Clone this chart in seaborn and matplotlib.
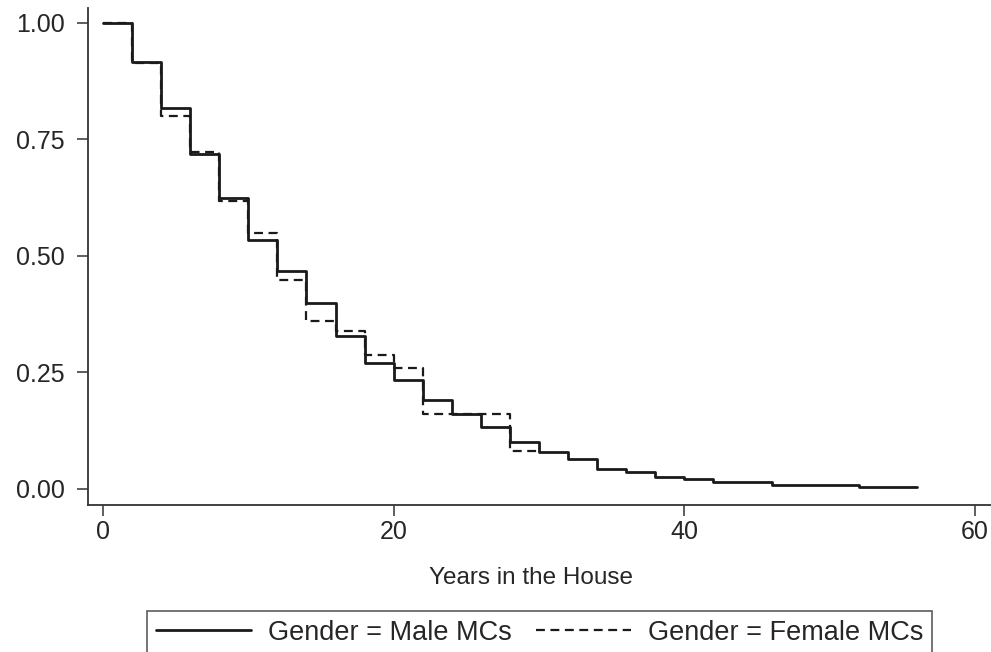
import pandas as pd
import matplotlib.pyplot as plt
import seaborn as sns

# Kaplan-Meier style survival estimates
years_male = [0, 2, 4, 6, 8, 10, 12, 14, 16, 18, 20, 22, 24, 26, 28, 30,
              32, 34, 36, 38, 40, 42, 46, 52, 56]
surv_male = [1.00, 0.916, 0.818, 0.719, 0.624, 0.534, 0.467, 0.398, 0.328,
             0.270, 0.234, 0.191, 0.160, 0.132, 0.100, 0.080, 0.064, 0.042,
             0.036, 0.026, 0.021, 0.014, 0.009, 0.004, 0.004]

years_female = [0, 2, 4, 6, 8, 10, 12, 14, 16, 18, 20, 22, 28, 30]
surv_female = [1.00, 0.913, 0.800, 0.722, 0.617, 0.549, 0.448, 0.360, 0.338,
               0.287, 0.259, 0.160, 0.081, 0.081]

label_male = "Gender = Male MCs"
label_female = "Gender = Female MCs"
x_ticks = [0, 20, 40, 60]
y_ticks = [0.00, 0.25, 0.50, 0.75, 1.00]

male = pd.DataFrame({"Years": years_male, "Survival": surv_male})
female = pd.DataFrame({"Years": years_female, "Survival": surv_female})

sns.set_style("white")
plt.rcParams['font.family'] = ['Liberation Sans', 'DejaVu Sans']

fig = plt.figure(figsize=(9.91, 6.52), dpi=100)
ax = fig.add_axes([88 / 991, 1 - 505 / 652, 1 - 88 / 991, (505 - 8) / 652])

sns.lineplot(data=male, x="Years", y="Survival", ax=ax, color="#1a1a1a",
             linewidth=2.0, drawstyle="steps-post", estimator=None,
             label=label_male)
sns.lineplot(data=female, x="Years", y="Survival", ax=ax, color="#1a1a1a",
             linewidth=1.6, linestyle=(0, (4, 2.5)), drawstyle="steps-post",
             estimator=None, label=label_female)

ax.set_xlim(-1.03, 61.1)
ax.set_ylim(-0.0345, 1.032)
ax.set_xticks(x_ticks)
ax.set_yticks(y_ticks)
ax.set_xticklabels([str(t) for t in x_ticks])
ax.set_yticklabels([f"{t:.2f}" for t in y_ticks])
ax.tick_params(axis="both", labelsize=18, direction="out", color="#333333",
               width=1.1, bottom=True, left=True)
ax.tick_params(axis="y", length=8, pad=9)
ax.tick_params(axis="x", length=8, pad=3)

for side in ["top", "right"]:
    ax.spines[side].set_visible(False)
for side in ["left", "bottom"]:
    ax.spines[side].set_color("#333333")
    ax.spines[side].set_linewidth(1.3)

ax.set_ylabel("")
ax.set_xlabel("Years in the House", fontsize=17.5)
ax.xaxis.set_label_coords((531 - 88) / (991 - 88), (505 - 567) / 497)

ax.get_legend().remove()
handles, labels = ax.get_legend_handles_labels()
leg = fig.legend(handles, labels, ncol=2, fontsize=19.5, frameon=True,
                 fancybox=False, edgecolor="#333333", loc="upper left",
                 bbox_to_anchor=(147 / 991, 1 - 611 / 652),
                 handlelength=3.5, handletextpad=0.63, columnspacing=0.9,
                 borderpad=0.33, borderaxespad=0)
leg.get_frame().set_linewidth(1.2)

fig.savefig("out.png", dpi=100)
